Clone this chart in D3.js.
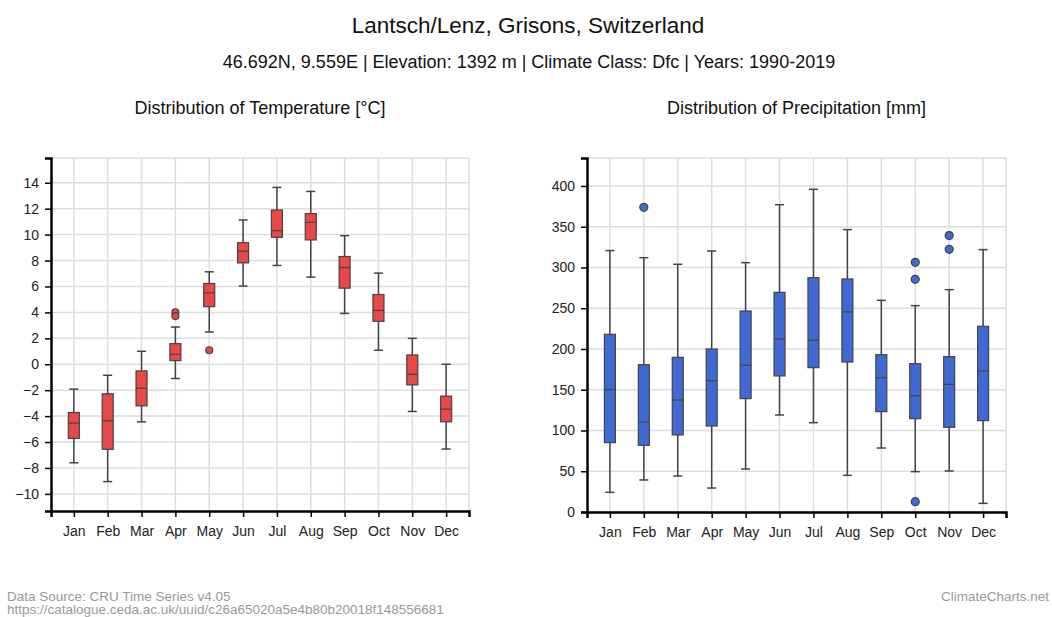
<!DOCTYPE html>
<html>
<head>
<meta charset="utf-8">
<script src="https://cdn.jsdelivr.net/npm/d3@7"></script>
<style>
  html, body { margin: 0; padding: 0; background: #fff; }
  svg { display: block; font-family: Arial, "Liberation Sans", Helvetica, sans-serif; }
</style>
</head>
<body>
<svg id="chart" width="1052" height="617"></svg>
<script>
const months = ["Jan","Feb","Mar","Apr","May","Jun","Jul","Aug","Sep","Oct","Nov","Dec"];

// Temperature [°C]
const tempLow    = [-7.6, -9.05, -4.44, -1.1, 2.49, 6.03, 7.62, 6.72, 3.92, 1.08, -3.64, -6.54];
const tempQ1     = [-5.72, -6.56, -3.21, 0.28, 4.44, 7.82, 9.79, 9.59, 5.87, 3.31, -1.59, -4.44];
const tempMedian = [-4.54, -4.36, -1.85, 0.77, 5.51, 8.72, 10.31, 10.95, 7.46, 4.15, -0.77, -3.46];
const tempQ3     = [-3.72, -2.28, -0.51, 1.59, 6.23, 9.38, 11.9, 11.62, 8.31, 5.38, 0.72, -2.46];
const tempHigh   = [-1.92, -0.85, 1.0, 2.87, 7.13, 11.13, 13.64, 13.33, 9.92, 7.03, 2.0, 0.0];
const tempOutliers = [[], [], [], [4.0, 3.72], [1.08], [], [], [], [], [], [], []];
const tempTicks = [-10, -8, -6, -4, -2, 0, 2, 4, 6, 8, 10, 12, 14];

// Precipitation [mm]
const precLow    = [24.1, 39.3, 44.2, 29.4, 52.8, 119.0, 109.6, 45.0, 78.5, 49.5, 50.3, 10.6];
const precQ1     = [85.1, 81.8, 94.5, 105.5, 139.1, 166.9, 177.1, 184.0, 123.1, 114.5, 103.9, 112.1];
const precMedian = [150.1, 110.4, 137.4, 161.1, 180.0, 212.3, 210.6, 245.4, 164.8, 142.7, 156.6, 173.0];
const precQ3     = [218.0, 180.8, 189.8, 200.0, 246.6, 269.5, 287.5, 285.9, 193.0, 182.0, 190.6, 227.8];
const precHigh   = [320.7, 312.0, 303.9, 320.2, 305.9, 377.0, 395.9, 346.4, 259.7, 253.2, 272.8, 321.9];
const precOutliers = [[], [373.8], [], [], [], [], [], [], [], [306.3, 285.5, 12.7], [339.1, 322.3], []];
const precTicks = [0, 50, 100, 150, 200, 250, 300, 350, 400];

const svg = d3.select("#chart");

// Titles
svg.append("text").attr("x", 528).attr("y", 33).attr("text-anchor", "middle")
  .attr("font-size", 22.5).attr("fill", "#111").text("Lantsch/Lenz, Grisons, Switzerland");
svg.append("text").attr("x", 529).attr("y", 68).attr("text-anchor", "middle")
  .attr("font-size", 18).attr("fill", "#111")
  .text("46.692N, 9.559E | Elevation: 1392 m | Climate Class: Dfc | Years: 1990-2019");

// Footer
svg.append("text").attr("x", 7).attr("y", 601).attr("font-size", 13.5).attr("fill", "#999")
  .text("Data Source: CRU Time Series v4.05");
svg.append("text").attr("x", 7).attr("y", 614).attr("font-size", 13.5).attr("fill", "#999")
  .text("https://catalogue.ceda.ac.uk/uuid/c26a65020a5e4b80b20018f148556681");
svg.append("text").attr("x", 1049).attr("y", 601).attr("text-anchor", "end").attr("font-size", 13.5).attr("fill", "#999")
  .text("ClimateCharts.net");

function drawPanel(opt) {
  const { left, right, top, bottom, title, low, q1, med, q3, high, outliers, ticks, domain, fill, boxW, capW, r } = opt;
  const g = svg.append("g");
  const x = d3.scalePoint().domain(months).range([left, right]).padding(0.675);
  const y = d3.scaleLinear().domain(domain).range([bottom, top]);

  g.append("text").attr("x", (left + right) / 2).attr("y", 114).attr("text-anchor", "middle")
    .attr("font-size", 18).attr("fill", "#111").text(title);

  // grid
  const grid = g.append("g").attr("stroke", "#ddd").attr("stroke-width", 1.5);
  grid.selectAll("line.h").data(ticks).join("line").attr("class", "h")
    .attr("x1", left).attr("x2", right).attr("y1", d => y(d)).attr("y2", d => y(d));
  grid.append("line").attr("x1", left).attr("x2", right).attr("y1", top).attr("y2", top);
  grid.selectAll("line.v").data(months).join("line").attr("class", "v")
    .attr("x1", d => x(d)).attr("x2", d => x(d)).attr("y1", top).attr("y2", bottom);
  grid.append("line").attr("x1", right).attr("x2", right).attr("y1", top).attr("y2", bottom);

  // boxes
  const items = months.map((m, i) => ({ m, lo: low[i], q1: q1[i], md: med[i], q3: q3[i], hi: high[i], out: outliers[i] }));
  const b = g.selectAll("g.box").data(items).join("g").attr("class", "box");
  b.append("line").attr("x1", d => x(d.m)).attr("x2", d => x(d.m))
    .attr("y1", d => y(d.hi)).attr("y2", d => y(d.lo)).attr("stroke", "#444").attr("stroke-width", 1.5);
  b.append("line").attr("x1", d => x(d.m) - capW / 2).attr("x2", d => x(d.m) + capW / 2)
    .attr("y1", d => y(d.hi)).attr("y2", d => y(d.hi)).attr("stroke", "#444").attr("stroke-width", 1.5);
  b.append("line").attr("x1", d => x(d.m) - capW / 2).attr("x2", d => x(d.m) + capW / 2)
    .attr("y1", d => y(d.lo)).attr("y2", d => y(d.lo)).attr("stroke", "#444").attr("stroke-width", 1.5);
  b.append("rect").attr("x", d => x(d.m) - boxW / 2).attr("width", boxW)
    .attr("y", d => y(d.q3)).attr("height", d => y(d.q1) - y(d.q3))
    .attr("fill", fill).attr("stroke", "#444").attr("stroke-width", 1.2);
  b.append("line").attr("x1", d => x(d.m) - boxW / 2).attr("x2", d => x(d.m) + boxW / 2)
    .attr("y1", d => y(d.md)).attr("y2", d => y(d.md)).attr("stroke", "#444").attr("stroke-width", 1.2);
  b.selectAll("circle").data(d => d.out.map(v => ({ m: d.m, v }))).join("circle")
    .attr("cx", d => x(d.m)).attr("cy", d => y(d.v)).attr("r", r)
    .attr("fill", fill).attr("stroke", "#444").attr("stroke-width", 1.2);

  // axes
  const ya = g.append("g").attr("transform", `translate(${left},0)`)
    .call(d3.axisLeft(y).tickValues(ticks).tickSize(6).tickSizeOuter(6).tickPadding(6));
  const xa = g.append("g").attr("transform", `translate(0,${bottom})`)
    .call(d3.axisBottom(x).tickSize(6).tickSizeOuter(6).tickPadding(9));
  [ya, xa].forEach(a => {
    a.selectAll("path.domain").attr("stroke", "#000").attr("stroke-width", 2.5);
    a.selectAll(".tick line").attr("stroke", "#000").attr("stroke-width", 1.5);
    a.selectAll(".tick text").attr("font-size", 14).attr("fill", "#222")
      .attr("font-family", 'Arial, "Liberation Sans", Helvetica, sans-serif');
  });
}

function padDomain(lowArr, highArr, outArr) {
  const all = lowArr.concat(highArr, outArr.flat());
  const mn = d3.min(all), mx = d3.max(all);
  const pad = (mx - mn) * 0.1;
  return [mn - pad, mx + pad];
}

drawPanel({
  left: 51, right: 469, top: 158, bottom: 511,
  title: "Distribution of Temperature [°C]",
  low: tempLow, q1: tempQ1, med: tempMedian, q3: tempQ3, high: tempHigh, outliers: tempOutliers,
  ticks: tempTicks, domain: padDomain(tempLow, tempHigh, tempOutliers),
  fill: "#e84848", boxW: 11, capW: 9, r: 3.5
});

drawPanel({
  left: 587, right: 1006, top: 158, bottom: 512,
  title: "Distribution of Precipitation [mm]",
  low: precLow, q1: precQ1, med: precMedian, q3: precQ3, high: precHigh, outliers: precOutliers,
  ticks: precTicks, domain: [0, d3.max(precHigh.concat(precOutliers.flat())) * 1.097],
  fill: "#4169d4", boxW: 11, capW: 9, r: 4
});
</script>
</body>
</html>
